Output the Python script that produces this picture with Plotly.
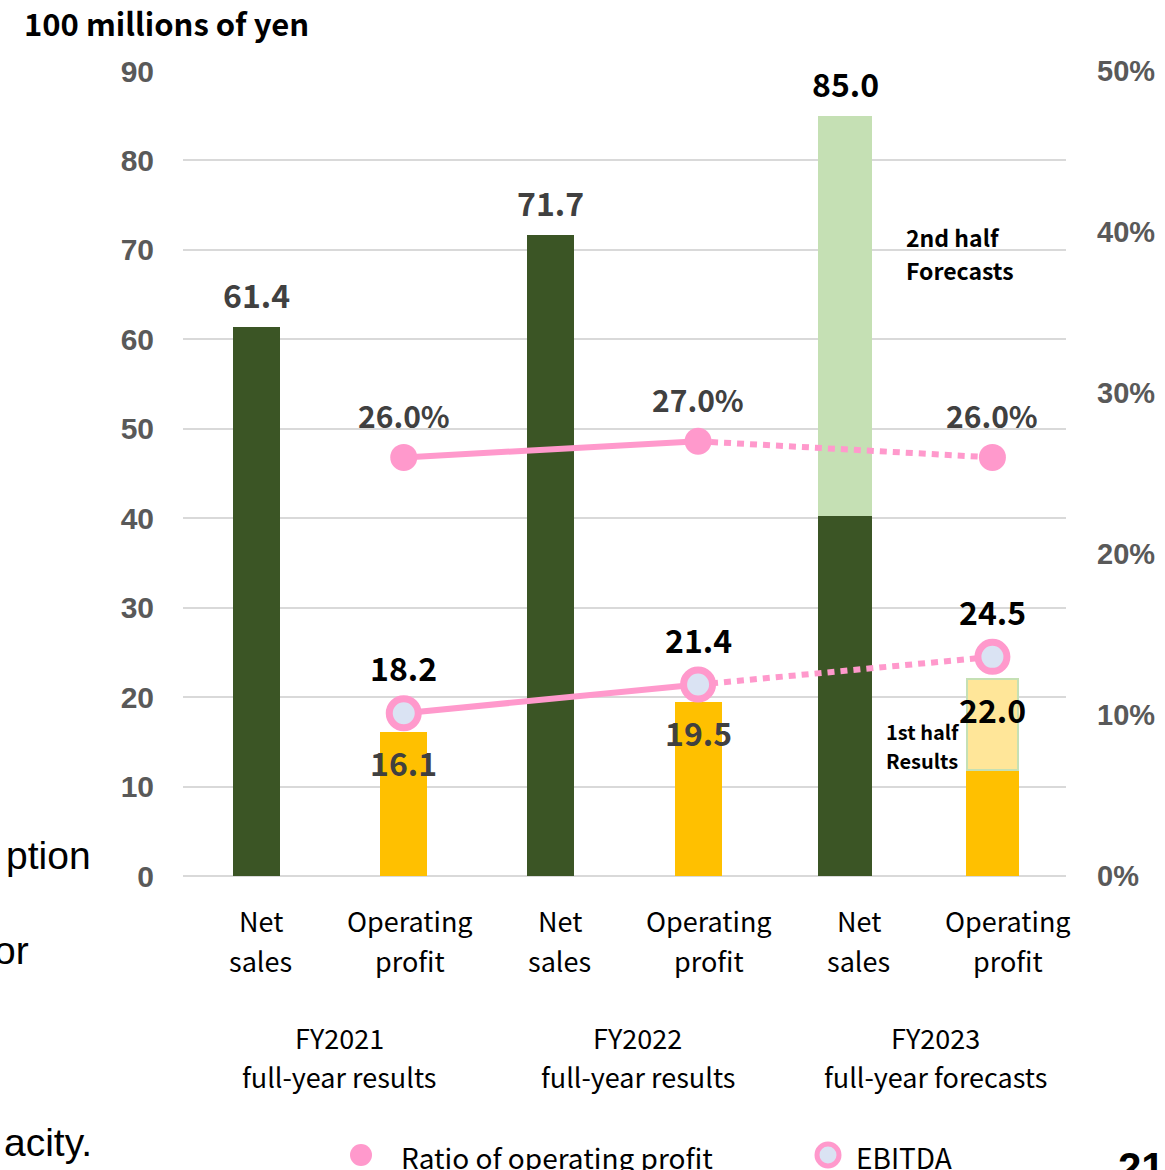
import plotly.graph_objects as go

# ---------------- data ----------------
categories = ["Net<br>sales", "Operating<br>profit", "Net<br>sales", "Operating<br>profit", "Net<br>sales", "Operating<br>profit"]
groups = ["FY2021<br>full-year results", "FY2022<br>full-year results", "FY2023<br>full-year forecasts"]
net_sales = [61.4, 71.7, 85.0]
net_sales_1st_half_fy2023 = 40.2
op_profit = [16.1, 19.5, 22.0]
op_profit_1st_half_fy2023 = 11.9
ebitda = [18.2, 21.4, 24.5]
op_ratio = [0.26, 0.27, 0.26]
left_ticks = [0, 10, 20, 30, 40, 50, 60, 70, 80, 90]
right_ticks = [0, 0.1, 0.2, 0.3, 0.4, 0.5]
legend_names = ["Ratio of operating profit", "EBITDA"]

W, H = 1165, 1170
FONT = "Noto Sans CJK JP"
PINK = "#FF99CC"
EB_FILL = "#DAE3F3"

ns_x = [0, 2, 4]
op_x = [1, 3, 5]

fig = go.Figure()

# Net sales bars (FY2023 = 1st half results + 2nd half forecasts)
ns_solid = net_sales[:2] + [net_sales_1st_half_fy2023]
fig.add_trace(go.Bar(x=ns_x, y=ns_solid, width=[0.32, 0.32, 0.37],
                     marker=dict(color="#3B5525", line=dict(width=0)),
                     showlegend=False, yaxis="y", hoverinfo="skip"))
fig.add_trace(go.Bar(x=[ns_x[2]], y=[net_sales[2] - net_sales_1st_half_fy2023],
                     base=[net_sales_1st_half_fy2023], width=[0.37],
                     marker=dict(color="#C5E0B4", line=dict(width=0)),
                     showlegend=False, yaxis="y", hoverinfo="skip"))
# Operating profit bars
op_solid = op_profit[:2] + [op_profit_1st_half_fy2023]
fig.add_trace(go.Bar(x=op_x, y=op_solid, width=[0.32, 0.32, 0.355],
                     marker=dict(color="#FFC000", line=dict(width=0)),
                     showlegend=False, yaxis="y", hoverinfo="skip"))
fig.add_trace(go.Bar(x=[op_x[2]], y=[op_profit[2] - op_profit_1st_half_fy2023],
                     base=[op_profit_1st_half_fy2023], width=[0.345],
                     marker=dict(color="#FFE699", line=dict(width=2, color="#C5E0B4")),
                     showlegend=False, yaxis="y", hoverinfo="skip"))

# Ratio of operating profit (right axis)
fig.add_trace(go.Scatter(x=op_x[:2], y=op_ratio[:2], mode="lines", yaxis="y2",
                         line=dict(color=PINK, width=6), showlegend=False, hoverinfo="skip"))
fig.add_trace(go.Scatter(x=op_x[1:], y=op_ratio[1:], mode="lines", yaxis="y2",
                         line=dict(color=PINK, width=6, dash="7px,6px"), showlegend=False, hoverinfo="skip"))
fig.add_trace(go.Scatter(x=op_x, y=op_ratio, mode="markers", yaxis="y2",
                         marker=dict(color=PINK, size=27), name=legend_names[0],
                         showlegend=False, hoverinfo="skip"))

# EBITDA (left axis)
fig.add_trace(go.Scatter(x=op_x[:2], y=ebitda[:2], mode="lines", yaxis="y",
                         line=dict(color=PINK, width=6), showlegend=False, hoverinfo="skip"))
fig.add_trace(go.Scatter(x=op_x[1:], y=ebitda[1:], mode="lines", yaxis="y",
                         line=dict(color=PINK, width=6, dash="7px,6px"), showlegend=False, hoverinfo="skip"))
fig.add_trace(go.Scatter(x=op_x, y=ebitda, mode="markers", yaxis="y",
                         marker=dict(color=EB_FILL, size=29, line=dict(color=PINK, width=7)),
                         name=legend_names[1], showlegend=False, hoverinfo="skip"))

ann = []
lab_font = dict(family=FONT, size=32, color="#404040", weight="bold")
# net sales labels
for i, v in enumerate(net_sales):
    ann.append(dict(x=ns_x[i], y=v, xref="x", yref="y", text=f"{v:.1f}", showarrow=False,
                    yanchor="middle", yshift=33,
                    font=dict(lab_font, color="#000000" if i == 2 else "#404040")))
# operating profit labels (inside top of bar)
for i, v in enumerate(op_profit):
    ann.append(dict(x=op_x[i], y=v, xref="x", yref="y", text=f"{v:.1f}", showarrow=False,
                    yanchor="middle", yshift=-30,
                    font=dict(lab_font, color="#000000" if i == 2 else "#404040")))
# ratio labels
for i, v in enumerate(op_ratio):
    ann.append(dict(x=op_x[i], y=v, xref="x", yref="y2", text=f"{v*100:.1f}%", showarrow=False,
                    yanchor="middle", yshift=42, font=dict(lab_font, size=30, color="#404040")))
# EBITDA labels
for i, v in enumerate(ebitda):
    ann.append(dict(x=op_x[i], y=v, xref="x", yref="y", text=f"{v:.1f}", showarrow=False,
                    yanchor="middle", yshift=46, font=dict(lab_font, color="#000000")))

# category labels (two lines each)
for i, c in enumerate(categories):
    lines = c.split("<br>")
    for j, ln in enumerate(lines):
        ann.append(dict(x=i, y=1 - (920 + 40 * j) / H, xref="x", yref="paper", text=ln,
                        showarrow=False, xshift=4 + 2.4 * i, yanchor="middle",
                        font=dict(family=FONT, size=27, color="#000000")))
# group labels
for g, grp in enumerate(groups):
    lines = grp.split("<br>")
    for j, ln in enumerate(lines):
        ann.append(dict(x=2 * g + 0.5, y=1 - (1037 + 39 * j) / H, xref="x", yref="paper", text=ln,
                        showarrow=False, xshift=9 + 4 * g, yanchor="middle",
                        font=dict(family=FONT, size=27, color="#000000")))

# half-year notes
note_font = dict(family=FONT, size=23, color="#000000", weight="bold")
for txt, yy in [("2nd half", 237), ("Forecasts", 270)]:
    ann.append(dict(x=904 / W, y=1 - yy / H, xref="paper", yref="paper", xanchor="left", yanchor="middle",
                    text=txt, showarrow=False, font=note_font))
for txt, yy in [("1st half", 731), ("Results", 760)]:
    ann.append(dict(x=884 / W, y=1 - yy / H, xref="paper", yref="paper", xanchor="left", yanchor="middle",
                    text=txt, showarrow=False, font=dict(note_font, size=20)))

# unit title
ann.append(dict(x=22 / W, y=1 - 22 / H, xref="paper", yref="paper", xanchor="left", yanchor="middle",
                text="100 millions of yen", showarrow=False,
                font=dict(family=FONT, size=31, color="#000000", weight="bold")))

# slide fragments at the left edge and page number
for txt, xr, yy in [("ption", 93, 855), ("or", 31, 950), ("acity.", 94, 1142)]:
    ann.append(dict(x=xr / W, y=1 - yy / H, xref="paper", yref="paper", xanchor="right", yanchor="middle",
                    text=txt, showarrow=False,
                    font=dict(family="Liberation Sans", size=39, color="#000000")))
ann.append(dict(x=1116 / W, y=1 - 1142 / H, xref="paper", yref="paper", xanchor="left", yanchor="top",
                text="21", showarrow=False,
                font=dict(family="Liberation Sans", size=42, color="#000000", weight="bold")))

# manual legend (symbols + names)
shapes = []
leg_y = 1155
shapes.append(dict(type="circle", xref="paper", yref="paper", xsizemode="pixel", ysizemode="pixel",
                   xanchor=361 / W, yanchor=1 - leg_y / H, x0=-11, x1=11, y0=-11, y1=11,
                   fillcolor=PINK, line=dict(width=0)))
shapes.append(dict(type="circle", xref="paper", yref="paper", xsizemode="pixel", ysizemode="pixel",
                   xanchor=828 / W, yanchor=1 - leg_y / H, x0=-11, x1=11, y0=-11, y1=11,
                   fillcolor=EB_FILL, line=dict(width=5, color=PINK)))
for name, xl in zip(legend_names, [399, 854]):
    ann.append(dict(x=xl / W, y=1 - (leg_y + 2) / H, xref="paper", yref="paper", xanchor="left",
                    yanchor="middle", text=name, showarrow=False,
                    font=dict(family=FONT, size=28, color="#000000")))

tick_font = dict(family="Liberation Sans", size=30, color="#595959", weight="bold")

fig.update_layout(
    width=W, height=H,
    margin=dict(l=0, r=0, t=0, b=0, autoexpand=False),
    paper_bgcolor="white", plot_bgcolor="white",
    barmode="overlay",
    bargap=0,
    showlegend=False,
    xaxis=dict(domain=[183 / W, 1066 / W], range=[-0.5, 5.5], showticklabels=False,
               showgrid=False, zeroline=False, showline=False, fixedrange=True),
    yaxis=dict(domain=[1 - 876 / H, 1 - 71 / H], range=[0, 90], tickvals=left_ticks,
               showgrid=True, gridcolor="#D9D9D9", gridwidth=2, zeroline=True,
               zerolinecolor="#D9D9D9", zerolinewidth=2, showline=False,
               tickfont=tick_font, ticks="", ticklabelstandoff=28),
    yaxis2=dict(overlaying="y", side="right", range=[0, 0.5], tickvals=right_ticks,
                tickformat=".0%", showgrid=False, zeroline=False, showline=False,
                tickfont=dict(tick_font, size=29), ticks="", ticklabelstandoff=30),
    annotations=ann,
    shapes=shapes,
)

fig.write_html("out.html")
